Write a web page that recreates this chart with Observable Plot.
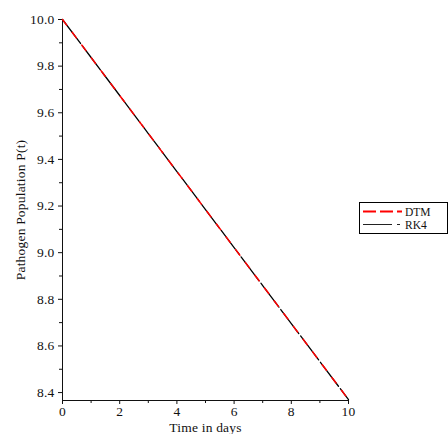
<!DOCTYPE html>
<html>
<head>
<meta charset="utf-8">
<script src="https://cdn.jsdelivr.net/npm/d3@7"></script>
<script src="https://cdn.jsdelivr.net/npm/@observablehq/plot@0.6"></script>
<style>
  html, body { margin: 0; padding: 0; background: #fff; }
  #wrap { position: relative; width: 448px; height: 434px; }
  #legend { position: absolute; left: 359px; top: 202px; }
</style>
</head>
<body>
<div id="wrap"></div>
<script>
// Data
const days = [0, 1, 2, 3, 4, 5, 6, 7, 8, 9, 10];
const dtm  = [10.0, 9.837, 9.674, 9.511, 9.348, 9.185, 9.022, 8.859, 8.696, 8.533, 8.370];
const rk4  = [10.0, 9.837, 9.674, 9.511, 9.348, 9.185, 9.022, 8.859, 8.696, 8.533, 8.370];
const xTicks = [0, 2, 4, 6, 8, 10];
const xMinor = [1, 3, 5, 7, 9];
const yTicks = [8.4, 8.6, 8.8, 9.0, 9.2, 9.4, 9.6, 9.8, 10.0];
const yMinor = [8.5, 8.7, 8.9, 9.1, 9.3, 9.5, 9.7, 9.9];
const seriesNames = ["DTM", "RK4"];

const rowsDTM = days.map((t, i) => ({t, p: dtm[i]}));
const rowsRK4 = days.map((t, i) => ({t, p: rk4[i]}));

const font = "Liberation Serif, Times New Roman, serif";

const chart = Plot.plot({
  width: 448,
  height: 434,
  marginLeft: 62,
  marginRight: 100,
  marginTop: 19,
  marginBottom: 34,
  style: {fontFamily: font, fontSize: "13.5px", color: "#111", background: "#fff", letterSpacing: "0.2px"},
  x: {type: "linear", domain: [0, 10]},
  y: {type: "linear", domain: [8.366, 10.0]},
  marks: [
    Plot.axisY({ticks: yTicks, tickSize: 4, tickFormat: d3.format(".1f"), label: "Pathogen Population P(t)", labelAnchor: "center", labelArrow: "none", labelOffset: 47, tickPadding: 4, fontSize: 13.5}),
    Plot.axisY({ticks: yMinor, tickSize: 3, tickFormat: () => "", label: null}),
    Plot.axisX({ticks: xTicks, tickSize: 4, label: "Time in days", labelAnchor: "center", labelArrow: "none", labelOffset: 31, tickPadding: 2, fontSize: 13.5}),
    Plot.axisX({ticks: xMinor, tickSize: 3, tickFormat: () => "", label: null}),
    Plot.ruleY([8.366], {stroke: "#111"}),
    Plot.ruleX([0], {stroke: "#111"}),
    Plot.line(rowsRK4, {x: "t", y: "p", stroke: "#000", strokeWidth: 1.3, strokeDasharray: "30,3"}),
    Plot.line(rowsDTM, {x: "t", y: "p", stroke: "#ff0000", strokeWidth: 1.5, strokeDasharray: "7,9"})
  ]
});
document.getElementById("wrap").appendChild(chart);

// Legend
const lg = d3.select("#wrap").append("svg")
  .attr("id", "legend").attr("width", 89).attr("height", 32)
  .style("font-family", font);
lg.append("rect").attr("x", 0.5).attr("y", 0.5).attr("width", 88).attr("height", 31)
  .attr("fill", "#fff").attr("stroke", "#000");
const styles = [
  {stroke: "#ff0000", w: 2, dash: "13,4", x2: 43},
  {stroke: "#222", w: 1, dash: "29,5,3,50", x2: 41}
];
seriesNames.forEach((name, i) => {
  const y = 9.5 + i * 13;
  lg.append("line").attr("x1", 4).attr("x2", styles[i].x2).attr("y1", y).attr("y2", y)
    .attr("stroke", styles[i].stroke).attr("stroke-width", styles[i].w)
    .attr("stroke-dasharray", styles[i].dash);
  lg.append("text").attr("x", 46).attr("y", y + 4).attr("font-size", 11.5)
    .attr("fill", "#111").text(name);
});
</script>
</body>
</html>
